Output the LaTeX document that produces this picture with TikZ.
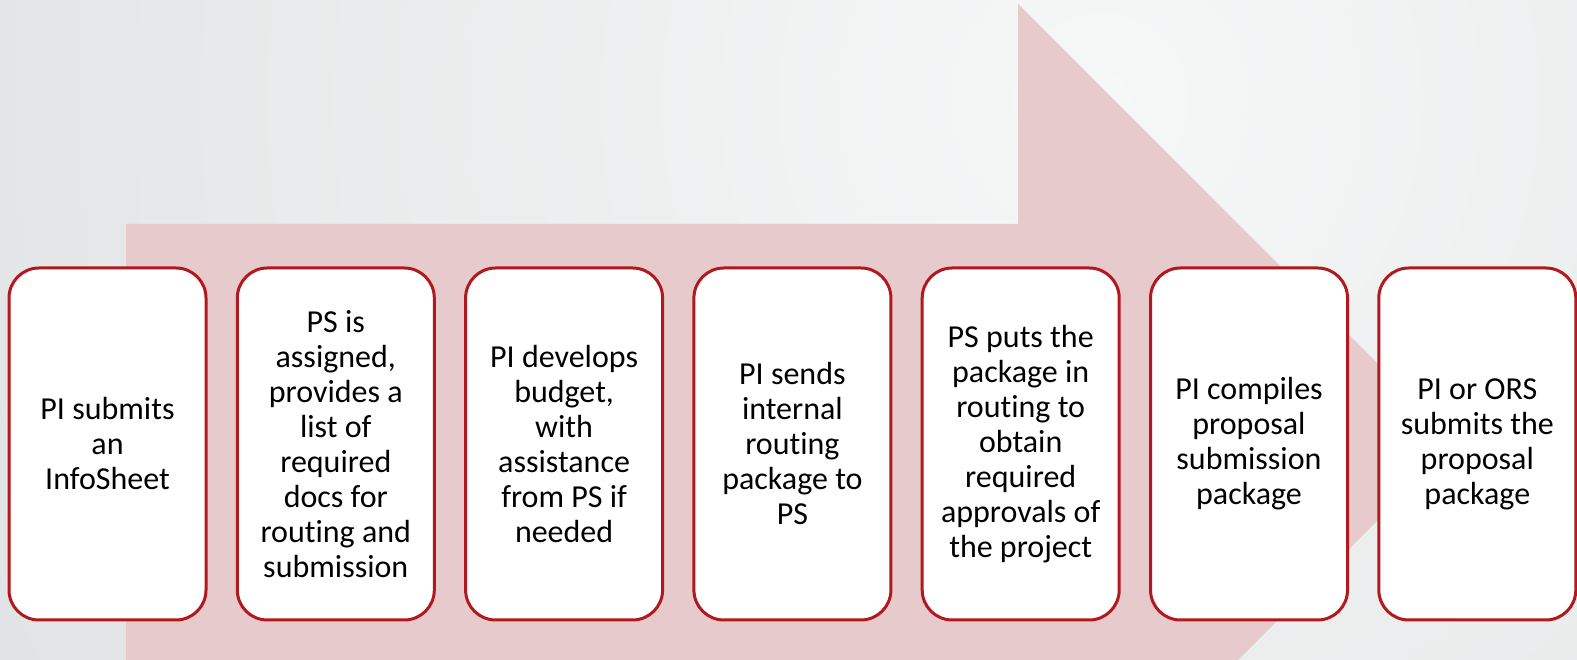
\documentclass[tikz,border=0pt]{standalone}
\usepackage{fontspec}
\setmainfont{Carlito}[Ligatures={NoCommon}]

\definecolor{boxred}{HTML}{B2191F}
\definecolor{arrowpink}{HTML}{E7CACB}
\definecolor{bgdark}{HTML}{CDD1D3}
\definecolor{bglight}{HTML}{F6F7F7}

\tikzset{
  stepbox/.style={draw=boxred, line width=3pt, fill=white, rounded corners=30pt,
    minimum width=197pt, minimum height=352pt, inner sep=0pt, align=center,
    font=\fontsize{32}{35}\selectfont}
}

\begin{document}
\begin{tikzpicture}[x=1pt, y=1pt]

% Dimensions
\def\width{1577}
\def\height{660}
\def\pitch{228.3}
\def\xfirst{107.5}
\def\ymid{216}

\useasboundingbox (0,0) rectangle (\width,\height);
\clip (0,0) rectangle (\width,\height);

% Background
\shade[inner color=bglight, outer color=bgdark] (1100,560) circle (2400);

% Big arrow behind the steps
\fill[arrowpink] (126,436) -- (1018,436) -- (1018,656) -- (1456,218)
  -- (1018,-220) -- (1018,-10) -- (126,-10) -- cycle;

% Steps
\foreach \txt [count=\i] in {
    {PI submits\\an\\InfoSheet},
    {PS is\\assigned,\\provides a\\list of\\required\\docs for\\routing and\\submission},
    {PI develops\\budget,\\with\\assistance\\from PS if\\needed},
    {PI sends\\internal\\routing\\package to\\PS},
    {PS puts the\\package in\\routing to\\obtain\\required\\approvals of\\the project},
    {PI compiles\\proposal\\submission\\package},
    {PI or ORS\\submits the\\proposal\\package}} {
  \node[stepbox] (box\i) at ({\xfirst + \pitch*(\i-1)}, \ymid) {\txt};
}

\end{tikzpicture}
\end{document}
